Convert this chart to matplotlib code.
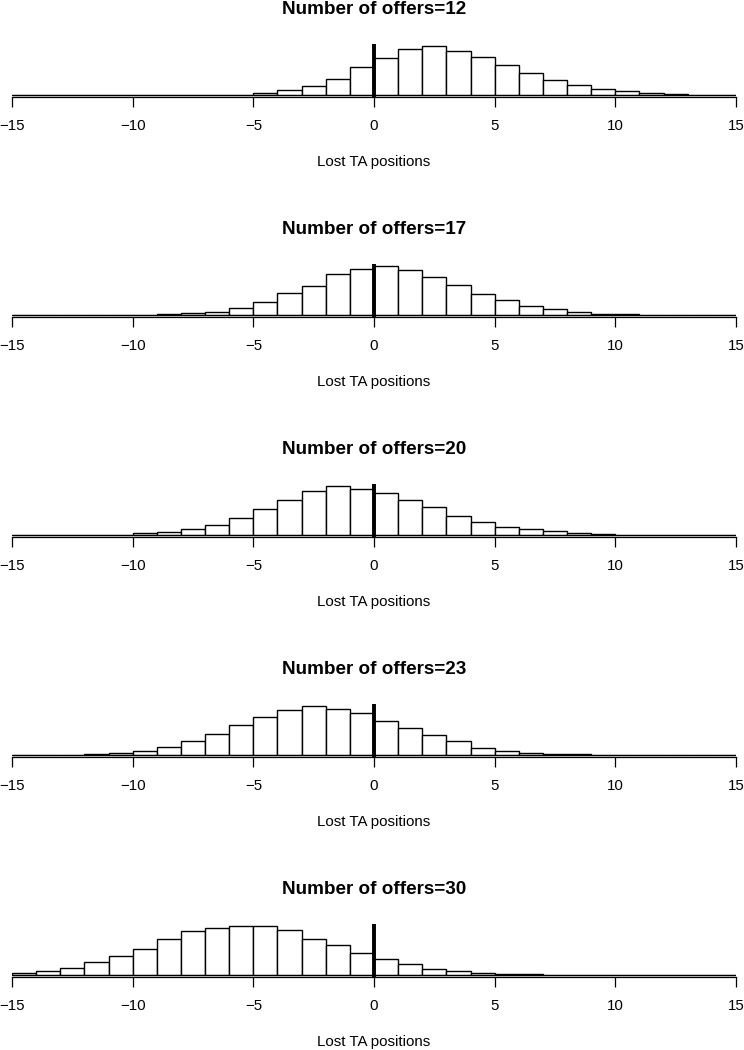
import matplotlib.pyplot as plt
import numpy as np

plt.rcParams['font.family'] = ['Liberation Sans', 'DejaVu Sans']

# bin left edges: -15 .. 14, width 1
bin_edges = np.arange(-15, 16)

offers = [12, 17, 20, 23, 30]

# estimated bar heights (relative frequency, arbitrary units) for bins [-15,-14] ... [14,15]
freq_12 = [0, 0, 0, 0, 0, 0, 0, 0, 0.3, 0.5, 1.7, 5, 9.3, 16.7, 28,
           38, 46.3, 49.7, 45, 38.3, 30.3, 22.3, 15.3, 9.7, 6, 3.7, 2, 1.3, 0.5, 0.3]
freq_17 = [0, 0, 0, 0, 0, 0.3, 1, 1.7, 3, 6.7, 13.3, 21.7, 29, 41, 46.3,
           49, 44.7, 38.3, 30, 21, 15.3, 9, 6, 3.3, 1, 0.7, 0.3, 0.1, 0, 0]
freq_20 = [0, 0, 0, 0.2, 0.4, 2, 3.3, 6, 10, 16.7, 26.3, 35.3, 43.7, 49, 46.3,
           42.3, 35, 28.3, 19.3, 12.7, 8.3, 6, 3.7, 2, 1, 0.5, 0.3, 0.2, 0, 0]
freq_23 = [0, 0.2, 0.3, 0.7, 1.7, 4.3, 7.7, 13.7, 21, 30, 38, 45, 49, 46, 42.3,
           33.7, 27.3, 20.3, 13.7, 7.3, 4, 2.3, 1.3, 0.7, 0.5, 0.3, 0, 0, 0, 0]
freq_30 = [2.3, 3.7, 7.3, 12.7, 19.3, 26, 36, 44, 47.7, 49.3, 49, 45.7, 36, 30, 21.7,
           15.7, 11, 6.3, 4, 2, 1.3, 0.7, 0.5, 0.3, 0.3, 0.2, 0.1, 0.1, 0, 0]

all_freq = [freq_12, freq_17, freq_20, freq_23, freq_30]

W, H = 744, 1050
fig = plt.figure(figsize=(W / 100, H / 100), dpi=100)

for i, (n, freq) in enumerate(zip(offers, all_freq)):
    axis_y = 97 + 220 * i
    ax = fig.add_axes([12 / W, 1 - axis_y / H, 724 / W, 53 / H])
    ax.bar(bin_edges[:-1], freq, width=1, align='edge', color='white',
           edgecolor='black', linewidth=1.0)
    ax.axhline(0, color='black', linewidth=0.8)
    ax.axvline(0, color='black', linewidth=2.8)
    m = max(freq)
    ax.set_ylim(-0.04 * m, 1.04 * m)
    ax.set_xlim(-15, 15)
    ax.set_xticks([-15, -10, -5, 0, 5, 10, 15])
    ax.set_xticklabels(['\u221215', '\u221210', '\u22125', '0', '5', '10', '15'])
    ax.tick_params(axis='x', length=7, width=0.9, pad=9, labelsize=10.8)
    ax.set_yticks([])
    for s in ['left', 'right', 'top']:
        ax.spines[s].set_visible(False)
    ax.spines['bottom'].set_linewidth(0.9)
    ax.set_xlabel('Lost TA positions', fontsize=10.8, labelpad=16)
    ax.set_title(f'Number of offers={n}', fontsize=13.6, fontweight='bold', pad=21.5)

fig.savefig('out.png', dpi=100)
